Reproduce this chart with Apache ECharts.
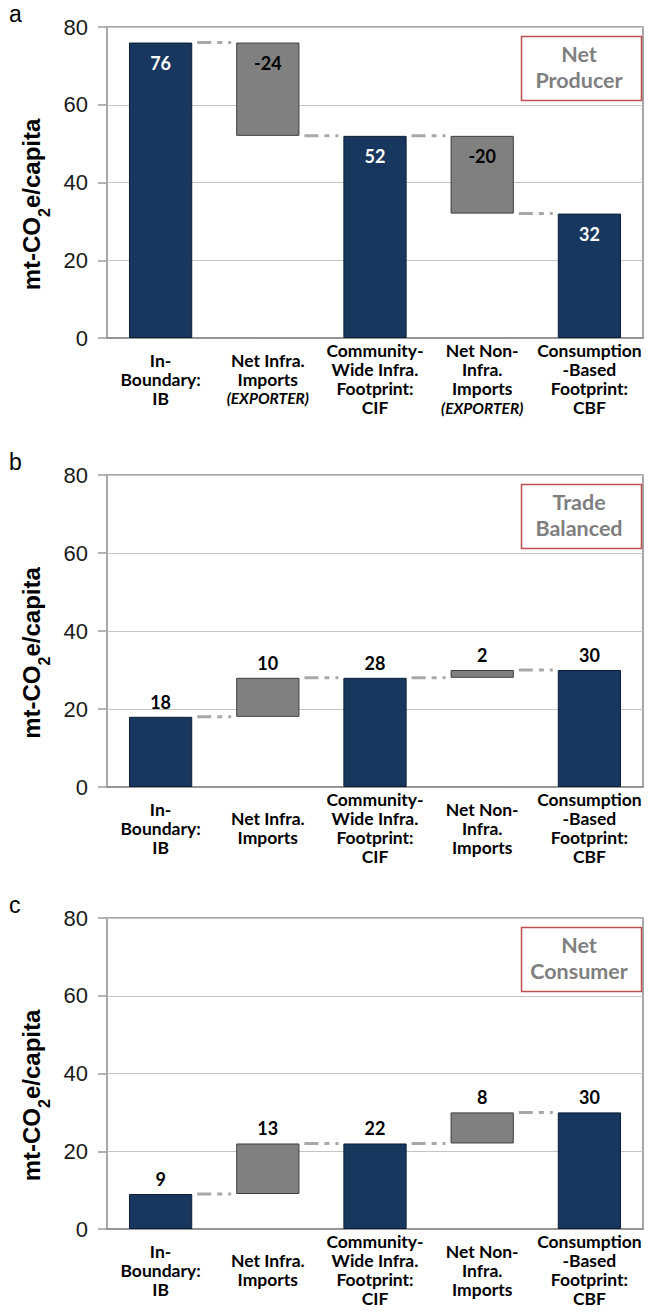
<!DOCTYPE html>
<html><head><meta charset="utf-8">
<script src="https://cdn.jsdelivr.net/npm/echarts@6/dist/echarts.min.js"></script>
<style>html,body{margin:0;padding:0;background:#fff}#c{width:649px;height:1313px}</style>
</head><body><div id="c"></div>
<script>
// ---- data ----
const categoriesA = [
  'In-\nBoundary:\nIB',
  'Net Infra.\nImports\n{i|(EXPORTER)}',
  'Community-\nWide Infra.\nFootprint:\nCIF',
  'Net Non-\nInfra.\nImports\n{i|(EXPORTER)}',
  'Consumption\n-Based\nFootprint:\nCBF'
];
const categoriesBC = [
  'In-\nBoundary:\nIB',
  'Net Infra.\nImports',
  'Community-\nWide Infra.\nFootprint:\nCIF',
  'Net Non-\nInfra.\nImports',
  'Consumption\n-Based\nFootprint:\nCBF'
];
const kinds = ['total', 'delta', 'total', 'delta', 'total'];
const valuesA = [76, -24, 52, -20, 32];
const valuesB = [18, 10, 28, 2, 30];
const valuesC = [9, 13, 22, 8, 30];
const yTicks = [0, 20, 40, 60, 80];
const panelLetters = ['a', 'b', 'c'];
const panelTags = ['Net\nProducer', 'Trade\nBalanced', 'Net\nConsumer'];

// ---- layout / style ----
const NAVY = '#17375e', NAVY_B = '#0c1e36';
const GREY = '#808080', GREY_B = '#3f3f3f';
const BAR_FRAC = 0.59;
const LEFT = 107, WIDTH = 536;
const tops = [27, 475, 918];
const heights = [311, 312, 311];
const FONT = 'Lato, "Liberation Sans", sans-serif';
const SANS = '"Liberation Sans", Arial, sans-serif';

function waterfall(vals) {
  let level = 0; const base = [], height = [], ends = [];
  vals.forEach((v, i) => {
    if (kinds[i] === 'total') { base.push(0); height.push(v); level = v; }
    else { const s = level, e = level + v; base.push(Math.min(s, e)); height.push(Math.abs(v)); level = e; }
    ends.push(level);
  });
  return { base, height, ends };
}

const panels = [
  { cats: categoriesA, vals: valuesA, inside: true },
  { cats: categoriesBC, vals: valuesB, inside: false },
  { cats: categoriesBC, vals: valuesC, inside: false }
];

const grid = [], xAxis = [], yAxis = [], series = [], graphic = [];
panels.forEach((p, k) => {
  const w = waterfall(p.vals);
  grid.push({ left: LEFT, width: WIDTH, top: tops[k], height: heights[k], show: true,
    borderColor: '#8a8a8a', borderWidth: 1.5, backgroundColor: 'transparent' });
  xAxis.push({ type: 'category', gridIndex: k, data: p.cats,
    axisLine: { show: true, lineStyle: { color: '#8a8a8a', width: 1.5 } },
    axisTick: { show: false },
    axisLabel: { interval: 0, color: '#000', fontFamily: FONT, fontWeight: 'bold', fontSize: 17.5,
      lineHeight: 19, verticalAlign: 'middle', margin: 41,
      rich: { i: { fontStyle: 'italic', fontWeight: 'bold', fontSize: 15.5, lineHeight: 19, fontFamily: FONT, color: '#000' } } } });
  yAxis.push({ type: 'value', gridIndex: k, min: yTicks[0], max: yTicks[yTicks.length - 1], interval: yTicks[1] - yTicks[0],
    name: '{a|mt-CO}{s|2}{a|e/capita}', nameLocation: 'middle', nameGap: 60, nameRotate: 90,
    nameTextStyle: { padding: [0, 44, 0, 0], rich: {
      a: { fontSize: 24, fontWeight: 'bold', fontFamily: SANS, color: '#000', lineHeight: 28 },
      s: { fontSize: 16, fontWeight: 'bold', fontFamily: SANS, color: '#000', lineHeight: 28, verticalAlign: 'bottom', padding: [0, 0, -7, 0] } } },
    axisLine: { show: false },
    axisTick: { show: true, length: 9, lineStyle: { color: '#9a9a9a', width: 1.5 } },
    axisLabel: { color: '#1a1a1a', fontSize: 22, fontFamily: SANS, margin: 19 },
    splitLine: { show: true, lineStyle: { color: '#c4c4c4', width: 1 } } });

  series.push({ type: 'bar', xAxisIndex: k, yAxisIndex: k, stack: 'w' + k, barWidth: (BAR_FRAC * 100) + '%',
    data: w.base, itemStyle: { color: 'transparent' }, silent: true, emphasis: { disabled: true } });
  series.push({ type: 'bar', xAxisIndex: k, yAxisIndex: k, stack: 'w' + k, barWidth: (BAR_FRAC * 100) + '%',
    emphasis: { disabled: true },
    data: w.height.map((h, i) => {
      const total = kinds[i] === 'total';
      return { value: h,
        itemStyle: { color: total ? NAVY : GREY, borderColor: total ? NAVY_B : GREY_B, borderWidth: 1 },
        label: { show: true, position: p.inside ? 'insideTop' : 'top', distance: p.inside ? 11 : 6,
          formatter: String(p.vals[i]), color: (p.inside && total) ? '#fff' : '#000',
          fontFamily: FONT, fontWeight: 'bold', fontSize: 18 } };
    }) });
  series.push({ type: 'custom', xAxisIndex: k, yAxisIndex: k, silent: true, z: 3,
    data: w.ends.slice(0, -1).map((lv, i) => [i, lv]),
    encode: { x: 0, y: 1 },
    renderItem: (params, api) => {
      const i = api.value(0), lv = api.value(1);
      const p1 = api.coord([i, lv]), p2 = api.coord([i + 1, lv]);
      const hw = api.size([1, 0])[0] * BAR_FRAC / 2;
      return { type: 'line', shape: { x1: p1[0] + hw + 5, y1: p1[1], x2: p2[0] - hw - 5, y2: p1[1] },
        style: { stroke: '#a8a8a8', lineWidth: 3, lineDash: [14, 6, 5, 6] } };
    } });

  graphic.push({ type: 'text', left: 9, top: tops[k] - 25,
    style: { text: panelLetters[k], font: '23px "Liberation Sans", Arial, sans-serif', fill: '#000' } });
  graphic.push({ type: 'rect', left: 519, top: tops[k] + 7,
    shape: { width: 120, height: 64 }, style: { fill: 'none', stroke: '#c0504d', lineWidth: 1.5 } });
  graphic.push({ type: 'text', x: 579, y: tops[k] + 40,
    style: { text: panelTags[k], fill: '#7f7f7f', fontFamily: FONT, fontWeight: 'bold', fontSize: 21.5,
      lineHeight: 26, align: 'center', verticalAlign: 'middle' } });
});

const chart = echarts.init(document.getElementById('c'), null, { renderer: 'svg' });
chart.setOption({ animation: false, backgroundColor: '#fff', grid, xAxis, yAxis, series, graphic });
</script></body></html>
